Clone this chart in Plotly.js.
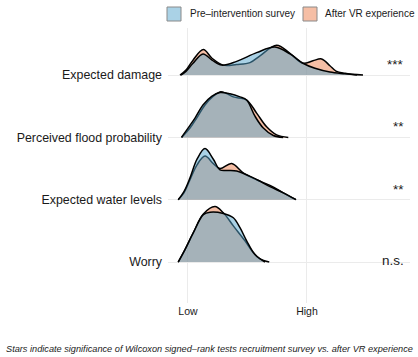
<!DOCTYPE html>
<html>
<head>
<meta charset="utf-8">
<script src="https://cdn.plot.ly/plotly-3.0.1.min.js"></script>
<style>html,body{margin:0;padding:0;background:#fff;}#chart{width:418px;height:357px;}</style>
</head>
<body>
<div id="chart"></div>
<script>
// Categories (bottom to top) and significance labels
const categories = ['Worry', 'Expected water levels', 'Perceived flood probability', 'Expected damage'];
const significance = ['n.s.', '**', '**', '***'];
const xTickLabels = ['Low', 'High'];
const seriesNames = ['Pre\u2013intervention survey', 'After VR experience'];

// Density curves (x: 0 = Low, 1 = High; h: ridge height)
const damagePreX = [-0.059, -0.017, 0.042, 0.126, 0.202, 0.283, 0.409, 0.577, 0.731, 0.857, 0.966, 1.067, 1.193, 1.319, 1.420];
const damagePreH = [0, 0.06, 0.19, 0.34, 0.24, 0.16, 0.22, 0.36, 0.45, 0.34, 0.19, 0.11, 0.05, 0.02, 0];
const damageAfterX = [-0.067, -0.017, 0.042, 0.129, 0.202, 0.297, 0.409, 0.521, 0.605, 0.745, 0.857, 0.966, 1.050, 1.123, 1.193, 1.244, 1.319, 1.471];
const damageAfterH = [0, 0.08, 0.24, 0.41, 0.27, 0.16, 0.17, 0.20, 0.31, 0.48, 0.35, 0.19, 0.23, 0.26, 0.15, 0.065, 0.03, 0];

const floodPreX = [-0.055, 0.008, 0.059, 0.126, 0.199, 0.269, 0.353, 0.437, 0.493, 0.563, 0.633, 0.717, 0.800];
const floodPreH = [0, 0.17, 0.31, 0.52, 0.66, 0.72, 0.70, 0.65, 0.60, 0.34, 0.15, 0.03, 0];
const floodAfterX = [-0.053, 0.017, 0.073, 0.143, 0.213, 0.269, 0.319, 0.381, 0.493, 0.577, 0.661, 0.745, 0.843];
const floodAfterH = [0, 0.15, 0.31, 0.52, 0.66, 0.73, 0.71, 0.65, 0.60, 0.39, 0.17, 0.04, 0];

const waterPreX = [-0.082, -0.034, 0.017, 0.076, 0.143, 0.213, 0.269, 0.336, 0.409, 0.549, 0.689, 0.801, 0.908];
const waterPreH = [0, 0.13, 0.35, 0.65, 0.82, 0.65, 0.48, 0.47, 0.46, 0.35, 0.21, 0.11, 0];
const waterAfterX = [-0.082, -0.034, 0.017, 0.076, 0.143, 0.213, 0.269, 0.367, 0.464, 0.577, 0.689, 0.801, 0.908];
const waterAfterH = [0, 0.11, 0.32, 0.56, 0.70, 0.58, 0.50, 0.58, 0.43, 0.32, 0.23, 0.11, 0];

const worryPreX = [-0.082, -0.025, 0.045, 0.129, 0.185, 0.297, 0.381, 0.437, 0.493, 0.563, 0.647];
const worryPreH = [0, 0.20, 0.47, 0.76, 0.80, 0.78, 0.71, 0.55, 0.34, 0.12, 0];
const worryAfterX = [-0.082, -0.025, 0.045, 0.129, 0.227, 0.297, 0.381, 0.479, 0.549, 0.605, 0.683];
const worryAfterH = [0, 0.20, 0.47, 0.77, 0.89, 0.79, 0.58, 0.34, 0.15, 0.05, 0];

const preX = [worryPreX, waterPreX, floodPreX, damagePreX];
const preH = [worryPreH, waterPreH, floodPreH, damagePreH];
const afterX = [worryAfterX, waterAfterX, floodAfterX, damageAfterX];
const afterH = [worryAfterH, waterAfterH, floodAfterH, damageAfterH];

const preFill = 'rgba(85,165,205,0.5)';
const afterFill = 'rgba(235,125,75,0.5)';
const preLegend = 'rgb(170,210,230)';
const afterLegend = 'rgb(245,190,165)';
const FONT = 'Liberation Sans, Arial, sans-serif';
const W = 418, H = 357;
const px = v => v / W;          // pixel x -> paper
const py = v => 1 - v / H;      // pixel y -> paper

const traces = [];
function ridge(xs, hs, offset, fill) {
  return {
    type: 'scatter', mode: 'lines', x: xs, y: hs.map(h => h + offset),
    fill: 'toself', fillcolor: fill,
    line: {color: '#000', width: 1.5, shape: 'spline', smoothing: 1},
    showlegend: false, hoverinfo: 'skip'
  };
}
for (let i = categories.length - 1; i >= 0; i--) {
  traces.push(ridge(afterX[i], afterH[i], i, afterFill));
  traces.push(ridge(preX[i], preH[i], i, preFill));
}

const starOffsets = [0.03, 0.17, 0.17, 0.17];
const annotations = categories.map((c, i) => ({
  xref: 'paper', yref: 'y', x: px(406), y: i + starOffsets[i], text: significance[i],
  showarrow: false, xanchor: 'right', yanchor: 'middle', font: {family: FONT, size: 13.5, color: '#1a1a1a'}
}));
annotations.push({
  xref: 'paper', yref: 'paper', x: px(209), y: py(349), xanchor: 'center', yanchor: 'middle', showarrow: false,
  text: '<i>Stars indicate significance of Wilcoxon signed\u2013rank tests recruitment survey vs. after VR experience</i>',
  font: {family: FONT, size: 9.2, color: '#1a1a1a'}
});
// manual legend
const legendBoxes = [[167, 181], [303, 317]];
const legendTextX = [188, 323];
const legendColors = [preLegend, afterLegend];
const shapes = [];
seriesNames.forEach((n, i) => {
  shapes.push({type: 'rect', xref: 'paper', yref: 'paper', x0: px(legendBoxes[i][0]), x1: px(legendBoxes[i][1]),
    y0: py(21), y1: py(7), fillcolor: legendColors[i], line: {color: '#8a8a8a', width: 1}});
  annotations.push({xref: 'paper', yref: 'paper', x: px(legendTextX[i]), y: py(14), xanchor: 'left', yanchor: 'middle',
    showarrow: false, text: n, font: {family: FONT, size: 10, color: '#1a1a1a'}});
});

const layout = {
  width: W, height: H,
  margin: {l: 0, r: 0, t: 0, b: 0},
  paper_bgcolor: '#fff', plot_bgcolor: '#fff',
  font: {family: FONT, color: '#1a1a1a'},
  showlegend: false,
  xaxis: {domain: [168 / W, 410 / W], range: [-0.168, 1.866], tickvals: [0, 1], ticktext: xTickLabels,
    showgrid: true, gridcolor: '#ebebeb', gridwidth: 1, automargin: false,
    zeroline: false, showline: false, ticks: '', tickfont: {family: FONT, size: 10.5, color: '#1a1a1a'}, fixedrange: true},
  yaxis: {domain: [1 - 303 / H, 1 - 28 / H], range: [-0.658, 3.756], tickvals: [0, 1, 2, 3], ticktext: categories,
    showgrid: true, gridcolor: '#ebebeb', gridwidth: 1, automargin: false, ticklabelstandoff: 5,
    zeroline: false, showline: false, ticks: '', tickfont: {family: FONT, size: 12.4, color: '#1a1a1a'}, fixedrange: true},
  shapes: shapes,
  annotations: annotations
};

Plotly.newPlot('chart', traces, layout, {displayModeBar: false, staticPlot: true});
</script>
</body>
</html>
